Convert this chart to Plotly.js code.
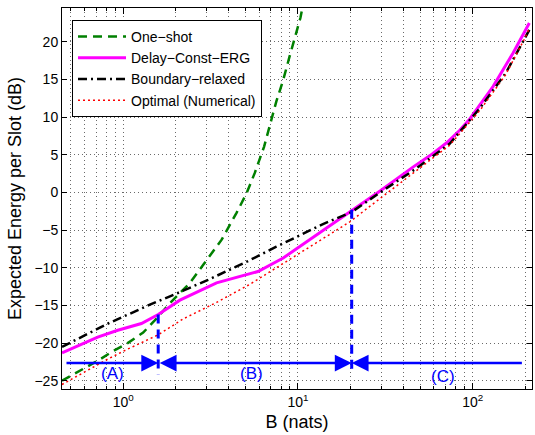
<!DOCTYPE html>
<html>
<head>
<meta charset="utf-8">
<script src="https://cdn.plot.ly/plotly-3.0.1.min.js"></script>
<style>html,body{margin:0;padding:0;background:#fff;}#chart{width:535px;height:435px;}</style>
</head>
<body>
<div id="chart"></div>
<script>
// ---- data ----
const seriesNames = ['One\u2212shot', 'Delay\u2212Const\u2212ERG', 'Boundary\u2212relaxed', 'Optimal (Numerical)'];

const oneShotB = [0.446, 0.55, 0.72, 0.87, 1.06, 1.30, 1.50, 1.85, 2.41, 2.87, 3.65, 4.45, 5.08, 5.66, 6.4, 7.52, 8.2, 8.96, 9.83, 10.33, 10.6];
const oneShotE = [-25.0, -23.8, -22.3, -21.1, -20.0, -18.6, -17.1, -14.7, -12.0, -9.6, -6.3, -2.7, -0.1, 2.6, 6.1, 12.1, 14.8, 18.1, 21.2, 23.2, 24.5];

const delayB = [0.446, 0.548, 0.714, 0.93, 1.27, 1.585, 2.11, 3.42, 5.9, 8.23, 12.8, 19.8, 29.5, 45.7, 57, 71, 84.6, 96.5, 131, 170, 211];
const delayE = [-21.3, -20.4, -19.2, -18.3, -17.4, -16.2, -14.3, -12.0, -10.5, -8.7, -5.6, -2.6, 0.2, 3.4, 4.9, 6.6, 8.3, 9.8, 14.1, 18.5, 22.5];

const boundaryB = [0.446, 0.82, 1.42, 1.85, 3.06, 5.09, 7.52, 13.9, 20.3, 29.5, 47.6, 74, 110, 154, 198, 211];
const boundaryE = [-20.5, -17.4, -14.9, -13.8, -11.6, -9.2, -7.2, -4.2, -2.6, 0.0, 3.2, 6.5, 11.2, 15.8, 20.4, 21.6];

const optimalB = [0.446, 0.6, 0.82, 1.06, 1.585, 2.2, 3.42, 5.3, 8.23, 12.8, 19.8, 29.5, 47.6, 74, 110, 154, 198, 211];
const optimalE = [-25.5, -23.8, -22.1, -20.8, -18.9, -16.8, -14.6, -12.2, -9.4, -6.7, -3.9, -0.8, 2.9, 6.3, 10.9, 15.6, 20.4, 21.8];

// region markers
const regionEdgesB = [0.464, 1.585, 20.3, 195];
const regionArrowE = -22.66;
const dividerB = [1.585, 20.3];
const dividerTopE = [-16.2, -2.3];
const dividerBottomE = -24.2;
const regionLabels = ['(A)', '(B)', '(C)'];
const regionLabelB = [0.873, 5.43, 67.9];
const regionLabelE = [-24.0, -24.0, -24.4];

// axes
const xRangeB = [0.446, 218.5];
const yRangeE = [-26.1, 24.5];
const xMajorTicks = [1, 10, 100];
const xMajorText = ['10<sup>0</sup>', '10<sup>1</sup>', '10<sup>2</sup>'];
const xMinorTicks = [0.5, 0.6, 0.7, 0.8, 0.9, 2, 3, 4, 5, 6, 7, 8, 9, 20, 30, 40, 50, 60, 70, 80, 90, 200];
const yTicks = [-25, -20, -15, -10, -5, 0, 5, 10, 15, 20];

// ---- chart ----
const FONT = 'Liberation Sans, Arial, Helvetica, sans-serif';
const BLUE = '#0000ff';
const GRID = '#6a6a6a';

const traces = [
  {x: oneShotB, y: oneShotE, name: seriesNames[0], mode: 'lines',
   line: {color: '#008000', width: 2.5, dash: '9px,6px'}},
  {x: delayB, y: delayE, name: seriesNames[1], mode: 'lines',
   line: {color: '#ff00ff', width: 3}},
  {x: boundaryB, y: boundaryE, name: seriesNames[2], mode: 'lines',
   line: {color: '#000000', width: 2.5, dash: '9px,4px,2px,4px'}},
  {x: optimalB, y: optimalE, name: seriesNames[3], mode: 'lines',
   line: {color: '#ff0000', width: 1.5, dash: '2px,3px'}}
];
dividerB.forEach((b, i) => {
  traces.push({x: [b, b], y: [dividerTopE[i], dividerBottomE], mode: 'lines', showlegend: false,
    hoverinfo: 'skip', line: {color: BLUE, width: 3, dash: '9px,6px'}});
});

const L = Math.log10;
const arrowBase = {xref: 'x', yref: 'y', axref: 'x', ayref: 'y', text: '', showarrow: true,
  arrowhead: 2, arrowsize: 1.35, arrowwidth: 2.5, arrowcolor: BLUE, standoff: 0, startstandoff: 0};
const annotations = [
  Object.assign({}, arrowBase, {x: L(regionEdgesB[1]), y: regionArrowE, ax: L(regionEdgesB[0]), ay: regionArrowE}),
  Object.assign({}, arrowBase, {x: L(regionEdgesB[2]), y: regionArrowE, ax: L(regionEdgesB[1]), ay: regionArrowE,
    arrowside: 'end+start', startarrowhead: 2, startarrowsize: 1.35}),
  Object.assign({}, arrowBase, {x: L(regionEdgesB[2]), y: regionArrowE, ax: L(regionEdgesB[3]), ay: regionArrowE})
];
regionLabels.forEach((t, i) => {
  annotations.push({xref: 'x', yref: 'y', x: L(regionLabelB[i]), y: regionLabelE[i], text: t,
    showarrow: false, font: {family: FONT, size: 17, color: BLUE}});
});

const axisCommon = {
  showline: true, linecolor: '#000', linewidth: 1, mirror: 'ticks',
  ticks: 'inside', tickcolor: '#000', tickwidth: 1,
  showgrid: true, gridcolor: GRID, griddash: '1px,3px', gridwidth: 1,
  zeroline: false, tickfont: {family: FONT, size: 14, color: '#000'}
};

const layout = {
  width: 535, height: 435,
  margin: {l: 62, r: 3, t: 8, b: 46},
  paper_bgcolor: '#fff', plot_bgcolor: '#fff',
  font: {family: FONT, color: '#000'},
  showlegend: true,
  legend: {x: 0.0213, y: 0.9685, xanchor: 'left', yanchor: 'top', bgcolor: '#fff',
    bordercolor: '#000', borderwidth: 1, font: {family: FONT, size: 14, color: '#000'},
    itemwidth: 48, tracegroupgap: 0},
  xaxis: Object.assign({}, axisCommon, {
    type: 'log', range: [L(xRangeB[0]), L(xRangeB[1])],
    tickmode: 'array', tickvals: xMajorTicks, ticktext: xMajorText, ticklen: 6,
    minor: {tickmode: 'array', tickvals: xMinorTicks, ticks: 'inside', ticklen: 3, tickcolor: '#000',
      showgrid: true, gridcolor: GRID, griddash: '1px,3px', gridwidth: 1},
    title: {text: 'B (nats)', font: {family: FONT, size: 18, color: '#000'}, standoff: 6}
  }),
  yaxis: Object.assign({}, axisCommon, {
    range: yRangeE, tickmode: 'array', tickvals: yTicks, ticklen: 5,
    title: {text: 'Expected Energy per Slot (dB)', font: {family: FONT, size: 18, color: '#000'}, standoff: 8}
  }),
  annotations: annotations
};

const gd = document.getElementById('chart');
function stretchLegendLines() {
  // lengthen the legend line samples to match the reference key
  const legend = gd.querySelector('g.legend');
  if (!legend) return;
  legend.querySelectorAll('path').forEach(function (p) {
    const d = p.getAttribute('d') || '';
    if (/^M5,0h30/.test(d) || /h30$/.test(d)) p.setAttribute('d', 'M7,0h43');
  });
}
Plotly.newPlot(gd, traces, layout, {displayModeBar: false, staticPlot: true});
stretchLegendLines();
gd.on && gd.on('plotly_afterplot', stretchLegendLines);
setTimeout(stretchLegendLines, 0);
setTimeout(stretchLegendLines, 200);
setTimeout(stretchLegendLines, 600);
</script>
</body>
</html>
